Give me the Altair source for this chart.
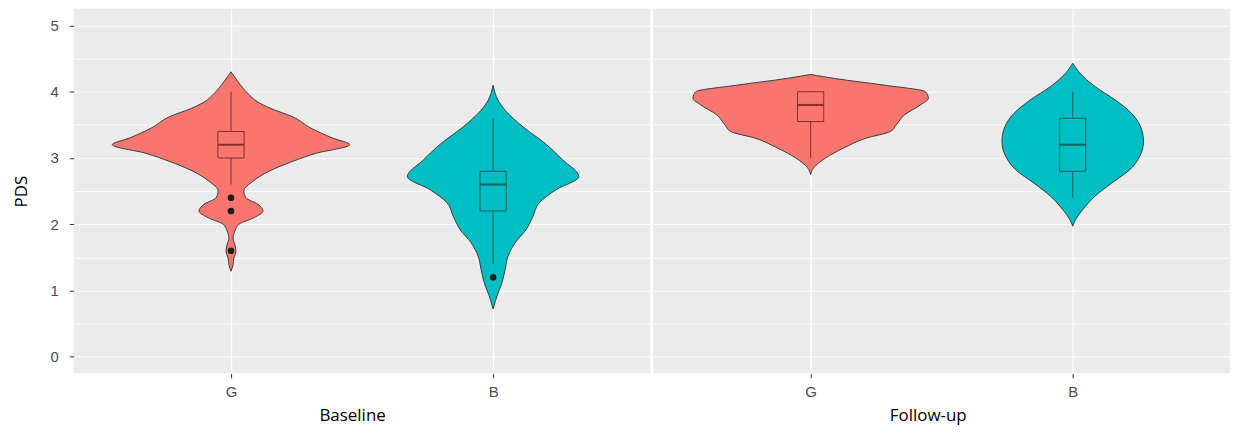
import altair as alt
import pandas as pd

# ---- data ----
panels = ["Baseline", "Follow-up"]
groups = ["G", "B"]
group_colors = ["#F8766D", "#00BFC4"]
box_line_colors = ["#86302a", "#16605f"]

# violin outlines: value (PDS) and half-width (x units)
base_G_v = [4.30, 4.15, 3.97, 3.85, 3.75, 3.62, 3.45, 3.30, 3.20, 3.07, 2.95, 2.80, 2.65, 2.50, 2.40, 2.30, 2.20, 2.10, 2.00, 1.90, 1.79, 1.69, 1.59, 1.49, 1.39, 1.29]
base_G_w = [0.0, 0.027, 0.065, 0.100, 0.150, 0.236, 0.305, 0.388, 0.453, 0.324, 0.236, 0.145, 0.084, 0.049, 0.057, 0.103, 0.122, 0.088, 0.030, 0.015, 0.008, 0.015, 0.019, 0.011, 0.008, 0.0]

base_B_v = [4.10, 3.87, 3.72, 3.47, 3.22, 2.97, 2.72, 2.52, 2.32, 2.12, 1.92, 1.72, 1.52, 1.32, 1.12, 0.92, 0.72]
base_B_w = [0.0, 0.019, 0.046, 0.114, 0.198, 0.266, 0.327, 0.240, 0.175, 0.152, 0.126, 0.084, 0.057, 0.046, 0.034, 0.015, 0.0]

fup_G_v = [4.26, 4.20, 4.10, 4.00, 3.90, 3.80, 3.65, 3.50, 3.40, 3.30, 3.15, 3.00, 2.85, 2.75]
fup_G_w = [0.0, 0.091, 0.278, 0.438, 0.449, 0.419, 0.358, 0.327, 0.305, 0.213, 0.126, 0.057, 0.011, 0.0]

fup_B_v = [4.43, 4.28, 4.08, 3.87, 3.67, 3.47, 3.25, 3.02, 2.82, 2.62, 2.42, 2.22, 2.07, 1.97]
fup_B_w = [0.0, 0.027, 0.084, 0.164, 0.225, 0.259, 0.270, 0.255, 0.217, 0.148, 0.084, 0.038, 0.011, 0.0]

# box plot statistics
box_panel = ["Baseline", "Baseline", "Follow-up", "Follow-up"]
box_group = ["G", "B", "G", "B"]
box_q1 = [3.0, 2.2, 3.55, 2.8]
box_med = [3.2, 2.6, 3.8, 3.2]
box_q3 = [3.4, 2.8, 4.0, 3.6]
box_lo = [2.6, 1.4, 3.0, 2.4]
box_hi = [4.0, 3.6, 4.0, 4.0]

# outliers
out_panel = ["Baseline", "Baseline", "Baseline", "Baseline"]
out_group = ["G", "G", "G", "B"]
out_value = [2.4, 2.2, 1.6, 1.2]

y_grid = [0, 0.5, 1, 1.5, 2, 2.5, 3, 3.5, 4, 4.5, 5]

# ---- tables ----
rows = []
for pnl, grp, vs, ws in [
    ("Baseline", "G", base_G_v, base_G_w),
    ("Baseline", "B", base_B_v, base_B_w),
    ("Follow-up", "G", fup_G_v, fup_G_w),
    ("Follow-up", "B", fup_B_v, fup_B_w),
]:
    for v, w in zip(vs, ws):
        rows.append({"panel": pnl, "group": grp, "v": v, "w": w})
violins = pd.DataFrame(rows).sort_values(["panel", "group", "v"]).reset_index(drop=True)

boxes = pd.DataFrame({
    "panel": box_panel, "group": box_group, "q1": box_q1, "med": box_med,
    "q3": box_q3, "lo": box_lo, "hi": box_hi,
})
outliers = pd.DataFrame({"panel": out_panel, "group": out_group, "value": out_value})

POS = "datum.group === 'G' ? 1 : 2"
xscale = alt.Scale(domain=[0.4, 2.6], nice=False, zero=False)
yscale = alt.Scale(domain=[-0.25, 5.25], nice=False, zero=False)
fill_scale = alt.Scale(domain=groups, range=group_colors)
line_scale = alt.Scale(domain=groups, range=box_line_colors)

TITLE_FONT = "Open Sans"
LABEL_FONT = "Liberation Sans"
PANEL_W = 579


def make_panel(name, show_y, title_shift):
    xaxis = alt.Axis(
        values=[1, 2], labelExpr="datum.value === 1 ? 'G' : 'B'", title=name,
        grid=True, gridColor="white", gridWidth=1.2, domain=False,
        tickSize=4.5, tickColor="#333333", labelPadding=7, labelColor="#4D4D4D",
        labelFontSize=15, labelFont=LABEL_FONT, titleFont=TITLE_FONT,
        titleFontSize=17, titleFontWeight="normal", titleColor="black", titlePadding=8,
        titleX=PANEL_W / 2 - title_shift,
    )
    if show_y:
        yaxis = alt.Axis(
            values=y_grid,
            labelExpr="datum.value % 1 === 0 ? format(datum.value, 'd') : ''",
            tickOpacity={"condition": {"test": "datum.value % 1 === 0", "value": 1}, "value": 0},
            title="PDS", grid=True, gridColor="white", gridWidth=1, domain=False,
            tickSize=4.5, tickColor="#333333", labelPadding=11, labelColor="#4D4D4D",
            labelFontSize=15, labelFont=LABEL_FONT, titleFont=TITLE_FONT,
            titleFontSize=17, titleFontWeight="normal", titleColor="black", titlePadding=20,
        )
    else:
        yaxis = alt.Axis(
            values=y_grid, labels=False, ticks=False, domain=False, title=None,
            grid=True, gridColor="white", gridWidth=1,
        )

    violin = (
        alt.Chart(violins)
        .transform_filter(alt.datum.panel == name)
        .transform_calculate(pos=POS)
        .transform_calculate(xlo="datum.pos - datum.w", xhi="datum.pos + datum.w")
        .mark_area(orient="horizontal", interpolate="monotone", stroke="#3a3a3a", strokeWidth=1)
        .encode(
            y=alt.Y("v:Q", scale=yscale, axis=yaxis),
            x=alt.X("xlo:Q", scale=xscale, axis=xaxis),
            x2="xhi:Q",
            fill=alt.Fill("group:N", scale=fill_scale, legend=None),
        )
    )

    base_box = (
        alt.Chart(boxes)
        .transform_filter(alt.datum.panel == name)
        .transform_calculate(pos=POS)
        .transform_calculate(bl="datum.pos - 0.05", br="datum.pos + 0.05")
    )
    whisker = base_box.mark_rule(strokeWidth=1).encode(
        x=alt.X("pos:Q", scale=xscale, axis=xaxis),
        y=alt.Y("lo:Q", scale=yscale, axis=yaxis),
        y2="hi:Q",
        stroke=alt.Stroke("group:N", scale=line_scale, legend=None),
    )
    box = base_box.mark_rect(strokeWidth=1).encode(
        x=alt.X("bl:Q", scale=xscale, axis=xaxis),
        x2="br:Q",
        y=alt.Y("q1:Q", scale=yscale, axis=yaxis),
        y2="q3:Q",
        fill=alt.Fill("group:N", scale=fill_scale, legend=None),
        stroke=alt.Stroke("group:N", scale=line_scale, legend=None),
    )
    median = base_box.mark_rule(strokeWidth=2).encode(
        x=alt.X("bl:Q", scale=xscale, axis=xaxis),
        x2="br:Q",
        y=alt.Y("med:Q", scale=yscale, axis=yaxis),
        stroke=alt.Stroke("group:N", scale=line_scale, legend=None),
    )
    pts = (
        alt.Chart(outliers)
        .transform_filter(alt.datum.panel == name)
        .transform_calculate(pos=POS)
        .mark_circle(size=45, color="#1e1e1e", opacity=1)
        .encode(
            x=alt.X("pos:Q", scale=xscale, axis=xaxis),
            y=alt.Y("value:Q", scale=yscale, axis=yaxis),
        )
    )
    return alt.layer(violin, whisker, box, median, pts).properties(width=PANEL_W, height=366)


chart = (
    alt.hconcat(
        make_panel("Baseline", True, 10),
        make_panel("Follow-up", False, 14),
        spacing=3,
    )
    .properties(padding={"left": 4, "top": 0, "right": 0, "bottom": 0}, background="white")
    .configure_view(fill="#EBEBEB", stroke=None)
)

chart.save("out.html", embed_options={"renderer": "svg", "actions": False})
